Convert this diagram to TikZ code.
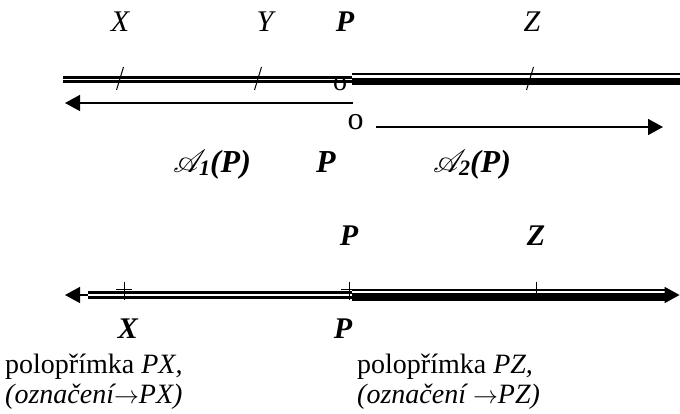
\documentclass[tikz,border=0pt]{standalone}
\usepackage{fontspec}
\setmainfont{Liberation Serif}
\usepackage{mathrsfs}
\DeclareFontFamily{U}{rsfs}{\skewchar\font127 }
\DeclareFontShape{U}{rsfs}{m}{n}{<-6> rsfs5 <6-8> rsfs7 <8-> rsfs10}{}
\usetikzlibrary{arrows.meta}

\begin{document}
\begin{tikzpicture}[
  x=1pt, y=-1pt,
  font=\fontsize{28}{34}\selectfont,
  pt/.style={inner sep=0pt, anchor=base, font=\fontsize{30}{36}\selectfont\bfseries\itshape},
  ptlight/.style={inner sep=0pt, anchor=base, font=\fontsize{30}{36}\selectfont\itshape},
  ray/.style={inner sep=0pt, anchor=base, font=\fontsize{32}{38}\selectfont\bfseries\itshape},
  note/.style={inner sep=0pt, anchor=base west, font=\fontsize{28}{34}\selectfont},
  pair/.style={draw=black, line width=2.8pt, double=white, double distance=1.5pt},
  heavy/.style={draw=black, line width=7.6pt},
  hair/.style={draw=black, line width=1.9pt},
  slash/.style={draw=black, line width=1pt},
  plusmark/.style={draw=black, line width=1pt},
  arrow/.style={-{Triangle[length=15pt,width=16pt]}, line width=1.6pt, draw=black}
]
  \useasboundingbox (0,0) rectangle (680,414);

  % upper line: points
  \node[ptlight] (tX) at (120,32) {X};
  \node[ptlight] (tY) at (265,32) {Y};
  \node[pt] (tP) at (345,32) {P};
  \node[ptlight] (tZ) at (532,32) {Z};

  \coordinate (a0) at (63,79.5);
  \coordinate (a1) at (352,79.5);
  \coordinate (b1) at (352,81.5);
  \coordinate (b2) at (680,81.5);
  \coordinate (c1) at (352,74.2);
  \coordinate (c2) at (680,74.2);
  \draw[pair] (a0) -- (a1);
  \draw[heavy] (b1) -- (b2);
  \draw[hair] (c1) -- (c2);

  \node[inner sep=0pt, anchor=base] (o1) at (340,91) {o};

  \draw[slash] (116.5,90) -- (123.5,67);
  \draw[slash] (254.5,90) -- (261.5,67);
  \draw[slash] (526.5,90) -- (533.5,67);

  % the two half-lines
  \coordinate (l0) at (353,103);
  \coordinate (l1) at (65,103);
  \draw[arrow] (l0) -- (l1);

  \node[inner sep=0pt, anchor=base, font=\fontsize{32}{38}\selectfont] (o2) at (355.5,130) {o};
  \coordinate (r0) at (376,127);
  \coordinate (r1) at (663,127);
  \draw[arrow] (r0) -- (r1);

  \node[ray] (h1) at (212,173) {$\mathscr{A}$\kern-7pt\raisebox{-3pt}{\fontsize{22}{26}\selectfont 1}(P)};
  \node[ray] (hP) at (326,173) {P};
  \node[ray] (h2) at (472,173) {$\mathscr{A}$\kern-7pt\raisebox{-3pt}{\fontsize{22}{26}\selectfont 2}(P)};

  % lower line
  \node[pt] (uP) at (349,245) {P};
  \node[pt] (uZ) at (536,245) {Z};

  \coordinate (dm) at (352,295);
  \coordinate (dl) at (65,295);
  \coordinate (dr) at (679.6,295);
  \draw[arrow] (dm) -- (dl);
  \draw[arrow] (dm) -- (dr);

  \coordinate (d0) at (88,295);
  \coordinate (d1) at (352,295);
  \coordinate (e1) at (352,297);
  \coordinate (e2) at (665,297);
  \coordinate (f1) at (352,290.2);
  \coordinate (f2) at (665,290.2);
  \draw[pair] (d0) -- (d1);
  \draw[heavy] (e1) -- (e2);
  \draw[hair] (f1) -- (f2);

  \draw[plusmark] (124,281.5) -- (124,299.5) (116,289.5) -- (132,289.5);
  \draw[plusmark] (349,281.5) -- (349,299.5) (341,289.5) -- (357,289.5);
  \draw[plusmark] (536,281.5) -- (536,299.5) (528,289.5) -- (544,289.5);

  \node[pt] (bX) at (128,338) {X};
  \node[pt] (bP) at (343,338) {P};

  \node[note] (n1) at (5,373) {polopřímka \textit{PX,}};
  \node[note] (n2) at (5,403) {\textit{(označení$\rightarrow$PX)}};
  \node[note] (n3) at (357,373) {polopřímka \textit{PZ,}};
  \node[note] (n4) at (357,403) {\textit{(označení $\rightarrow$PZ)}};
\end{tikzpicture}
\end{document}
